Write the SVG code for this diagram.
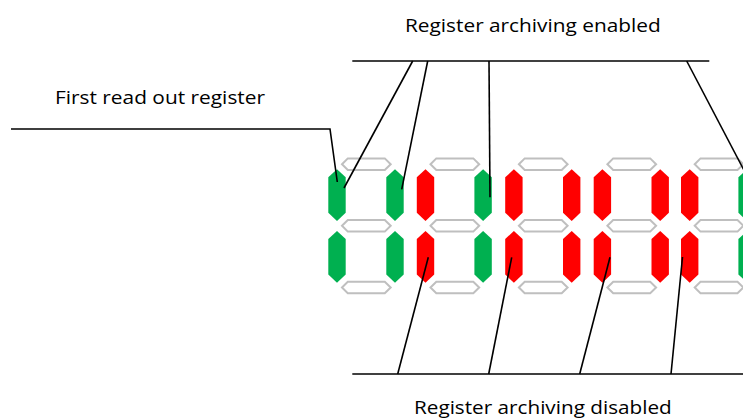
<svg xmlns="http://www.w3.org/2000/svg" xmlns:xlink="http://www.w3.org/1999/xlink" width="743" height="418" viewBox="0 0 743 418">
<style>
.g{fill:#00b050}
.r{fill:#ff0000}
.h{fill:#ffffff;stroke:#bfbfbf;stroke-width:2}
.ln{fill:none;stroke:#000000;stroke-width:1.6}
.t{font-family:"Open Sans","Liberation Sans",sans-serif;font-size:18px;fill:#000000}
</style>
<defs>
<polygon id="v" points="8.7,0 17.4,8 17.4,43.5 8.7,51.7 0,43.5 0,8"/>
<polygon id="hz" points="13.7,0 19.5,-5.8 56.5,-5.8 62.4,0 56.5,5.8 19.5,5.8"/>
</defs>
<rect width="743" height="418" fill="#ffffff"/>
<g id="digit1">
<use xlink:href="#hz" href="#hz" class="h" x="328.3" y="164.2"/>
<use xlink:href="#hz" href="#hz" class="h" x="328.3" y="225.8"/>
<use xlink:href="#hz" href="#hz" class="h" x="328.3" y="287.5"/>
<use xlink:href="#v" href="#v" class="g" x="328.3" y="169.3"/>
<use xlink:href="#v" href="#v" class="g" x="328.3" y="231"/>
<use xlink:href="#v" href="#v" class="g" x="386.3" y="169.3"/>
<use xlink:href="#v" href="#v" class="g" x="386.3" y="231"/>
</g>
<g id="digit2">
<use xlink:href="#hz" href="#hz" class="h" x="416.8" y="164.2"/>
<use xlink:href="#hz" href="#hz" class="h" x="416.8" y="225.8"/>
<use xlink:href="#hz" href="#hz" class="h" x="416.8" y="287.5"/>
<use xlink:href="#v" href="#v" class="r" x="416.8" y="169.3"/>
<use xlink:href="#v" href="#v" class="r" x="416.8" y="231"/>
<use xlink:href="#v" href="#v" class="g" x="474.4" y="169.3"/>
<use xlink:href="#v" href="#v" class="g" x="474.4" y="231"/>
</g>
<g id="digit3">
<use xlink:href="#hz" href="#hz" class="h" x="505.2" y="164.2"/>
<use xlink:href="#hz" href="#hz" class="h" x="505.2" y="225.8"/>
<use xlink:href="#hz" href="#hz" class="h" x="505.2" y="287.5"/>
<use xlink:href="#v" href="#v" class="r" x="505.2" y="169.3"/>
<use xlink:href="#v" href="#v" class="r" x="505.2" y="231"/>
<use xlink:href="#v" href="#v" class="r" x="563" y="169.3"/>
<use xlink:href="#v" href="#v" class="r" x="563" y="231"/>
</g>
<g id="digit4">
<use xlink:href="#hz" href="#hz" class="h" x="593.7" y="164.2"/>
<use xlink:href="#hz" href="#hz" class="h" x="593.7" y="225.8"/>
<use xlink:href="#hz" href="#hz" class="h" x="593.7" y="287.5"/>
<use xlink:href="#v" href="#v" class="r" x="593.7" y="169.3"/>
<use xlink:href="#v" href="#v" class="r" x="593.7" y="231"/>
<use xlink:href="#v" href="#v" class="r" x="651.5" y="169.3"/>
<use xlink:href="#v" href="#v" class="r" x="651.5" y="231"/>
</g>
<g id="digit5">
<use xlink:href="#hz" href="#hz" class="h" x="681" y="164.2"/>
<use xlink:href="#hz" href="#hz" class="h" x="681" y="225.8"/>
<use xlink:href="#hz" href="#hz" class="h" x="681" y="287.5"/>
<use xlink:href="#v" href="#v" class="r" x="681" y="169.3"/>
<use xlink:href="#v" href="#v" class="r" x="681" y="231"/>
<use xlink:href="#v" href="#v" class="g" x="738.4" y="169.3"/>
<use xlink:href="#v" href="#v" class="g" x="738.4" y="231"/>
</g>
<g id="connectors">
<polyline class="ln" points="11,129 330,129 337.3,182"/>
<line class="ln" x1="352.3" y1="61" x2="709.3" y2="61"/>
<line class="ln" x1="412.7" y1="61" x2="344" y2="188"/>
<line class="ln" x1="427.7" y1="61" x2="401.7" y2="189.3"/>
<line class="ln" x1="489" y1="61" x2="490" y2="197.3"/>
<line class="ln" x1="686.7" y1="61" x2="747" y2="176"/>
<line class="ln" x1="352.3" y1="374" x2="743" y2="374"/>
<line class="ln" x1="397.7" y1="374" x2="428.3" y2="257.3"/>
<line class="ln" x1="488.7" y1="374" x2="511.7" y2="257.3"/>
<line class="ln" x1="579.7" y1="374" x2="610" y2="257.3"/>
<line class="ln" x1="671" y1="374" x2="682.5" y2="257"/>
</g>
<g id="label-enabled">
<text class="t" x="405" y="31.5" textLength="255.7" lengthAdjust="spacingAndGlyphs">Register archiving enabled</text>
</g>
<g id="label-first">
<text class="t" x="55" y="103.5" textLength="210" lengthAdjust="spacingAndGlyphs">First read out register</text>
</g>
<g id="label-disabled">
<text class="t" x="414" y="414.4" textLength="257.7" lengthAdjust="spacingAndGlyphs">Register archiving disabled</text>
</g>
</svg>
